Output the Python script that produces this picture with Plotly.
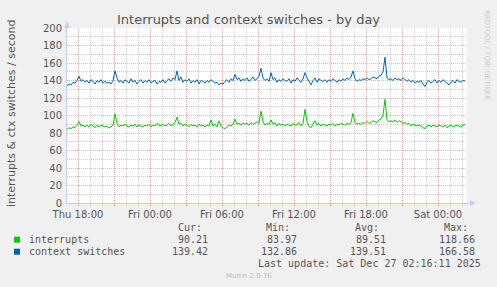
import plotly.graph_objects as go
import pandas as pd

# ---- data (10-minute samples) ----
start_time = "2025-12-25 17:05"
step_minutes = 10

context_switches = [
    134, 136, 135, 138, 137, 140, 145, 139, 141, 138,
    140, 137, 141, 139, 136, 140, 138, 141, 137, 139,
    137, 138, 136, 140, 151, 143, 138, 140, 137, 141,
    139, 137, 142, 138, 140, 136, 139, 141, 137, 140,
    138, 141, 137, 139, 140, 136, 139, 138, 141, 137,
    140, 142, 139, 143, 141, 151, 140, 144, 138, 141,
    139, 142, 137, 140, 138, 141, 136, 140, 139, 137,
    140, 138, 141, 139, 137, 138, 135, 137, 136, 139,
    141, 138, 142, 140, 147, 141, 143, 139, 142, 140,
    143, 139, 141, 144, 140, 142, 145, 154, 143, 140,
    142, 139, 149, 141, 143, 138, 141, 139, 142, 140,
    139, 142, 137, 141, 139, 143, 140, 138, 142, 149,
    143, 139, 135, 140, 143, 138, 142, 140, 139, 141,
    138, 141, 139, 142, 140, 138, 141, 139, 142, 140,
    143, 141, 144, 151, 142, 139, 141, 140, 142, 141,
    143, 141, 142, 144, 143, 142, 145, 146, 150, 166.58,
    143, 141, 142, 140, 143, 141, 142, 140, 143, 141,
    139, 141, 138, 140, 137, 139, 138, 140, 136, 133,
    138, 140, 137, 139, 141, 137, 140, 138, 141, 139,
    137, 135, 138, 140, 137, 141, 139, 138, 140, 139.42,
]
interrupts = [
    84, 86, 85, 87, 86, 89, 93, 88, 89, 87,
    89, 87, 90, 88, 86, 89, 87, 89, 88, 87,
    88, 86, 87, 89, 102, 91, 87, 89, 88, 90,
    88, 87, 89, 88, 90, 87, 89, 88, 87, 89,
    88, 90, 87, 89, 88, 91, 89, 88, 90, 88,
    89, 91, 88, 90, 92, 98, 90, 91, 88, 90,
    89, 87, 90, 88, 89, 87, 90, 88, 89, 87,
    89, 88, 95, 88, 90, 87, 94, 88, 86, 85,
    87, 89, 88, 90, 96, 90, 91, 89, 92, 90,
    91, 89, 92, 90, 91, 93, 91, 105, 93, 89,
    91, 90, 95, 90, 92, 88, 91, 89, 90, 88,
    90, 89, 88, 91, 89, 90, 92, 88, 91, 107,
    93, 88, 86, 90, 94, 89, 91, 88, 90, 89,
    88, 90, 89, 91, 88, 90, 89, 91, 90, 89,
    91, 90, 92, 102.5, 92, 90, 91, 90, 92, 91,
    93, 91, 92, 94, 93, 92, 95, 96, 100, 118.66,
    95, 93, 94, 93, 95, 92, 94, 93, 91, 92,
    90, 91, 88, 90, 89, 88, 89, 88, 86, 85,
    88, 89, 87, 89, 88, 87, 89, 88, 87, 89,
    86, 88, 89, 87, 88, 89, 88, 87, 89, 90.21,
]
series_names = ["interrupts", "context switches"]
series_colors = ["#00CC00", "#0066B3"]
stat_headers = ["Cur:", "Min:", "Avg:", "Max:"]
stats = {
    "interrupts": ["90.21", "83.97", "89.51", "118.66"],
    "context switches": ["139.42", "132.86", "139.51", "166.58"],
}
x_tick_times = ["2025-12-25 18:00", "2025-12-25 21:00", "2025-12-26 00:00", "2025-12-26 03:00",
                "2025-12-26 06:00", "2025-12-26 09:00", "2025-12-26 12:00", "2025-12-26 15:00",
                "2025-12-26 18:00", "2025-12-26 21:00", "2025-12-27 00:00"]
x_tick_labels = ["Thu 18:00", "", "Fri 00:00", "", "Fri 06:00", "", "Fri 12:00", "",
                 "Fri 18:00", "", "Sat 00:00"]
x_range = ["2025-12-25 17:05", "2025-12-27 02:25"]
y_range = [0, 200]
title = "Interrupts and context switches - by day"
y_title = "interrupts & ctx switches / second"
last_update = "Last update: Sat Dec 27 02:16:11 2025"
footer = "Munin 2.0.76"
side_text = "RRDTOOL / TOBI OETIKER"

times = pd.date_range(start_time, periods=len(interrupts), freq=f"{step_minutes}min")

# ---- layout geometry (pixels) ----
W, H = 497, 287
L, R, T, B = 67, 30, 28, 84
PW, PH = W - L - R, H - T - B


def px(xp):
    return (xp - L) / PW


def py(yp):
    return (H - B - yp) / PH


fig = go.Figure()
for name, vals, col in zip(series_names, [interrupts, context_switches], series_colors):
    fig.add_trace(go.Scatter(x=times, y=vals, mode="lines", name=name,
                             line=dict(color=col, width=1, simplify=False)))

mono = "DejaVu Sans Mono"
sans = "DejaVu Sans"
txt = "#555555"
grid_major = "rgba(230,140,140,0.7)"
grid_minor = "rgba(190,190,190,0.8)"
axis_col = "#C8CCEE"

fig.update_layout(
    width=W, height=H,
    margin=dict(l=L, r=R, t=T, b=B, pad=0),
    paper_bgcolor="#F0F0F0", plot_bgcolor="#FFFFFF",
    showlegend=False,
    font=dict(family=sans, size=10, color=txt),
)
fig.update_xaxes(
    range=x_range, tickmode="array", tickvals=x_tick_times, ticktext=x_tick_labels,
    showgrid=True, gridcolor=grid_major, griddash="1px,1px", gridwidth=1,
    ticks="outside", ticklen=2, tickcolor=grid_major,
    minor=dict(dtick=3600000, showgrid=True, gridcolor=grid_minor, griddash="1px,1px",
               ticks="outside", ticklen=2, tickcolor=grid_minor),
    showline=True, linecolor=axis_col, linewidth=1,
    tickfont=dict(family=sans, size=10, color=txt), zeroline=False,
)
fig.update_yaxes(
    range=y_range, dtick=20, tick0=0,
    showgrid=True, gridcolor=grid_major, griddash="1px,1px", gridwidth=1,
    ticks="", minor=dict(dtick=10, showgrid=True, gridcolor=grid_minor, griddash="1px,1px"),
    showline=True, linecolor=axis_col, linewidth=1, zeroline=False,
    tickfont=dict(family=sans, size=10, color=txt), ticklabelstandoff=2,
)

ann = []
ann.append(dict(text=title, x=px(248.5), y=py(19), xanchor="center", yanchor="middle",
                font=dict(family=sans, size=13, color="#555555")))
ann.append(dict(text=y_title, x=px(11), y=py(114), textangle=-90, xanchor="center", yanchor="middle",
                font=dict(family=sans, size=11, color=txt)))
ann.append(dict(text=side_text, x=px(487), y=py(55), textangle=90, xanchor="center", yanchor="middle",
                font=dict(family=sans, size=7, color="#CCCCCC")))
header_right = [204, 292, 381, 470]
value_right = [210, 299, 388, 477]
for h, xr in zip(stat_headers, header_right):
    ann.append(dict(text=h, x=px(xr), y=py(227.5), xanchor="right", yanchor="middle",
                    font=dict(family=mono, size=10, color=txt)))
rows_y = [239.7, 251.7]
for name, col, ry in zip(series_names, series_colors, rows_y):
    ann.append(dict(text=name, x=px(26.5), y=py(ry), xanchor="left", yanchor="middle",
                    font=dict(family=mono, size=10, color=txt)))
    for v, xr in zip(stats[name], value_right):
        ann.append(dict(text=v, x=px(xr), y=py(ry), xanchor="right", yanchor="middle",
                        font=dict(family=mono, size=10, color=txt)))
    fig.add_shape(type="rect", xref="paper", yref="paper",
                  x0=px(14), x1=px(20), y0=py(ry + 3), y1=py(ry - 3),
                  fillcolor=col, line=dict(width=0))
ann.append(dict(text=last_update, x=px(483), y=py(263.5), xanchor="right", yanchor="middle",
                font=dict(family=mono, size=10, color=txt)))
ann.append(dict(text=footer, x=px(248.5), y=py(276), xanchor="center", yanchor="middle",
                font=dict(family=sans, size=7, color="#BBBBBB")))
for a in ann:
    a.update(xref="paper", yref="paper", showarrow=False)
fig.update_layout(annotations=ann)

# axis arrows
fig.add_shape(type="path", xref="paper", yref="paper", xsizemode="pixel", ysizemode="pixel",
              xanchor=0, yanchor=1, path="M -3,0 L 3,0 L 0,6 Z",
              fillcolor=axis_col, line=dict(width=0))
fig.add_shape(type="line", xref="paper", yref="paper", x0=0, x1=0, y0=1, y1=py(22),
              line=dict(color=axis_col, width=1))
fig.add_shape(type="line", xref="paper", yref="paper", x0=1, x1=px(473), y0=0, y1=0,
              line=dict(color=axis_col, width=1))
fig.add_shape(type="path", xref="paper", yref="paper", xsizemode="pixel", ysizemode="pixel",
              xanchor=px(470), yanchor=0, path="M 0,-3 L 0,3 L 6,0 Z",
              fillcolor=axis_col, line=dict(width=0))

fig.write_html("out.html")
